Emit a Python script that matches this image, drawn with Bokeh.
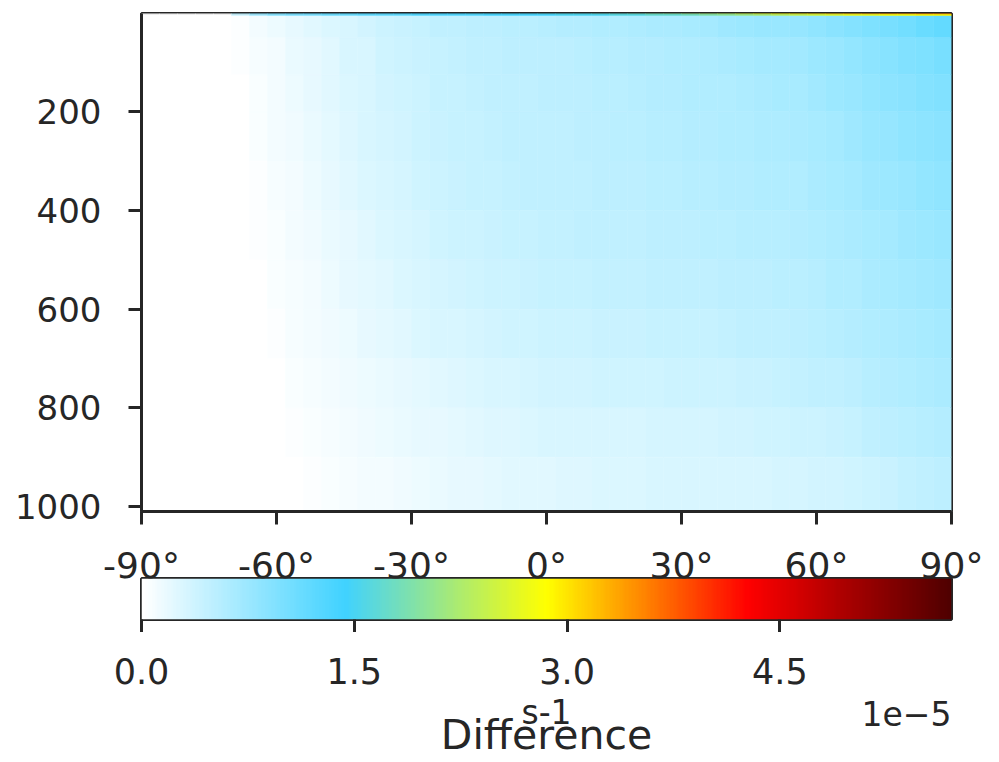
import numpy as np
from bokeh.plotting import figure
from bokeh.models import (ColumnDataSource, LinearColorMapper, FixedTicker, Range1d,
                          LinearAxis, PrintfTickFormatter, NumeralTickFormatter, Label)
from bokeh.layouts import column
from bokeh.transform import transform
from bokeh.embed import file_html
from bokeh.resources import INLINE

# ---------------- data ----------------
# latitude cell edges (deg) and pressure cell edges (hPa)
LAT_EDGES = [-90, -86, -82, -78, -74, -70, -66, -62, -58, -54, -50, -46, -42, -38, -34,
             -30, -26, -22, -18, -14, -10, -6, -2, 2, 6, 10, 14, 18, 22, 26, 30, 34, 38,
             42, 46, 50, 54, 58, 62, 66, 70, 74, 78, 82, 86, 90]
P_EDGES = [1, 2.5, 6, 50, 125, 200, 300, 400, 500, 600, 700, 800, 900, 1010]

# difference values, units of 1e-7 s-1; one row per pressure layer (top to bottom),
# one value per latitude cell (south to north)
DIFF_1_2 = [0, 0, 0, 0, 0, 60, 90, 100, 110, 120, 120, 130, 130, 130, 140, 140, 140, 140, 150, 150,
            150, 150, 160, 160, 160, 170, 170, 180, 190, 200, 210, 220, 230, 250, 270, 290, 300,
            310, 320, 330, 340, 350, 350, 360, 360]
DIFF_2_6 = [0, 0, 0, 0, 0, 40, 70, 90, 100, 100, 110, 110, 120, 120, 120, 130, 130, 130, 130, 140,
            140, 140, 140, 150, 150, 150, 160, 160, 170, 170, 180, 190, 200, 210, 220, 230, 240,
            250, 260, 270, 270, 280, 280, 290, 290]
DIFF_6_50 = [0, 0, 0, 0, 0, 4, 10, 14, 19, 23, 27, 31, 34, 39, 41, 44, 47, 49, 50, 51, 53, 53, 54,
             56, 57, 59, 60, 61, 63, 64, 66, 69, 72, 74, 76, 78, 80, 84, 88, 92, 97, 102, 107,
             112, 117]
DIFF_50_125 = [0, 0, 0, 0, 0, 3, 7, 11, 16, 20, 24, 29, 31, 36, 39, 41, 44, 46, 47, 49, 50, 50, 51,
               51, 53, 54, 54, 56, 57, 59, 60, 61, 63, 65, 67, 69, 70, 74, 78, 82, 86, 90, 94,
               98, 102]
DIFF_125_200 = [0, 0, 0, 0, 0, 2, 6, 10, 14, 19, 23, 27, 30, 34, 37, 40, 43, 44, 46, 47, 49, 49, 50,
                50, 51, 53, 53, 54, 56, 57, 58, 59, 60, 62, 64, 65, 66, 70, 74, 77, 81, 85, 89,
                92, 95]
DIFF_200_300 = [0, 0, 0, 0, 0, 1, 5, 9, 13, 17, 21, 25, 29, 32, 35, 38, 41, 43, 44, 46, 47, 48, 49,
                49, 50, 51, 52, 53, 54, 55, 56, 57, 58, 59, 61, 62, 63, 66, 69, 72, 76, 79, 83,
                86, 89]
DIFF_300_400 = [0, 0, 0, 0, 0, 0, 4, 7, 11, 15, 19, 23, 27, 30, 33, 36, 39, 41, 43, 44, 46, 47, 47,
                48, 49, 50, 50, 51, 52, 53, 54, 55, 56, 57, 58, 59, 60, 63, 66, 69, 72, 75, 78,
                81, 84]
DIFF_400_500 = [0, 0, 0, 0, 0, 0, 3, 6, 9, 13, 17, 20, 24, 27, 30, 33, 36, 38, 40, 41, 43, 44, 46,
                46, 47, 47, 49, 49, 50, 50, 51, 52, 53, 54, 54, 55, 56, 58, 61, 63, 66, 69, 72,
                75, 78]
DIFF_500_600 = [0, 0, 0, 0, 0, 0, 2, 5, 8, 11, 14, 18, 21, 24, 27, 30, 33, 35, 37, 39, 40, 41, 43,
                43, 44, 45, 46, 46, 47, 47, 48, 49, 50, 51, 51, 52, 53, 55, 58, 60, 63, 66, 68,
                71, 73]
DIFF_600_700 = [0, 0, 0, 0, 0, 0, 1, 4, 7, 9, 12, 15, 18, 21, 24, 27, 29, 31, 33, 35, 36, 37, 39,
                39, 40, 41, 41, 42, 43, 43, 44, 44, 46, 47, 48, 49, 50, 52, 54, 57, 59, 62, 64,
                66, 68]
DIFF_700_800 = [0, 0, 0, 0, 0, 0, 0, 2, 5, 7, 10, 12, 15, 17, 20, 22, 24, 26, 28, 30, 31, 32, 34,
                34, 35, 36, 36, 37, 37, 38, 39, 39, 40, 41, 42, 44, 45, 47, 49, 51, 54, 56, 59,
                61, 63]
DIFF_800_900 = [0, 0, 0, 0, 0, 0, 0, 1, 3, 5, 7, 9, 12, 14, 16, 18, 20, 22, 23, 25, 26, 27, 29,
                29, 30, 30, 31, 31, 32, 32, 33, 33, 34, 35, 36, 37, 38, 40, 42, 44, 47, 50, 52,
                55, 57]
DIFF_900_1010 = [0, 0, 0, 0, 0, 0, 0, 0, 2, 3, 5, 7, 9, 11, 13, 15, 17, 19, 20, 21, 23, 24, 24,
                 26, 26, 27, 27, 27, 29, 29, 29, 30, 30, 31, 31, 32, 33, 34, 35, 37, 39, 42, 45,
                 48, 51]
DIFF_ROWS = [DIFF_1_2, DIFF_2_6, DIFF_6_50, DIFF_50_125, DIFF_125_200, DIFF_200_300,
             DIFF_300_400, DIFF_400_500, DIFF_500_600, DIFF_600_700, DIFF_700_800,
             DIFF_800_900, DIFF_900_1010]
DIFF_UNIT = 1e-7

LAT_TICKS = [-90, -60, -30, 0, 30, 60, 90]
P_TICKS = [200, 400, 600, 800, 1000]
VMAX = 5.71e-5
CB_TICKS = [0.0, 1.5, 3.0, 4.5]     # in units of 1e-5
CB_SCALE = 1e-5

# ---------------- styling ----------------
INK = "#262626"
FONT = "DejaVu Sans"
W = 991
LEFT = 141
RIGHT = 40

stops = [(0.0, (255, 255, 255)), (0.25, (64, 210, 255)), (0.5, (255, 255, 0)),
         (0.75, (255, 0, 0)), (1.0, (80, 0, 0))]


def cmap(t):
    for (t0, c0), (t1, c1) in zip(stops[:-1], stops[1:]):
        if t <= t1:
            f = (t - t0) / (t1 - t0)
            return "#%02x%02x%02x" % tuple(int(round(a + (b - a) * f)) for a, b in zip(c0, c1))
    return "#%02x%02x%02x" % stops[-1][1]


PALETTE = [cmap(i / 255) for i in range(256)]
mapper = LinearColorMapper(palette=PALETTE, low=0, high=VMAX)

# ---------------- heatmap source ----------------
left, right, top, bottom, vals = [], [], [], [], []
for i, row in enumerate(DIFF_ROWS):
    for j, v in enumerate(row):
        left.append(LAT_EDGES[j])
        right.append(LAT_EDGES[j + 1])
        top.append(P_EDGES[i])
        bottom.append(P_EDGES[i + 1])
        vals.append(v * DIFF_UNIT)
src = ColumnDataSource(dict(left=left, right=right, top=top, bottom=bottom, v=vals))

# ---------------- main figure ----------------
p = figure(width=W, height=528, x_range=Range1d(LAT_EDGES[0], LAT_EDGES[-1]),
           y_range=Range1d(P_EDGES[-1], P_EDGES[0]),
           output_backend="svg", toolbar_location=None,
           min_border_left=LEFT, min_border_right=RIGHT, min_border_top=13, min_border_bottom=17)
p.grid.visible = False
p.background_fill_color = "white"
p.border_fill_color = "white"
p.outline_line_color = INK
p.outline_line_width = 3
p.outline_line_alpha = 1

p.quad(left="left", right="right", top="top", bottom="bottom", source=src,
       fill_color=transform("v", mapper), line_color=transform("v", mapper), line_width=0.5)

xa = p.xaxis[0]
xa.ticker = FixedTicker(ticks=LAT_TICKS)
xa.major_tick_out = 13
xa.major_tick_in = 0
xa.major_tick_line_width = 3
xa.major_tick_line_color = INK
xa.minor_tick_line_color = None
xa.axis_line_color = INK
xa.axis_line_width = 3
xa.major_label_text_color = None
xa.major_label_text_font_size = "1px"
xa.major_label_standoff = 0

ya = p.yaxis[0]
ya.ticker = FixedTicker(ticks=P_TICKS)
ya.major_tick_out = 13
ya.major_tick_in = 0
ya.major_tick_line_width = 3
ya.major_tick_line_color = INK
ya.minor_tick_line_color = None
ya.axis_line_color = INK
ya.axis_line_width = 3
ya.major_label_text_font = FONT
ya.major_label_text_font_size = "34px"
ya.major_label_text_color = INK
ya.major_label_standoff = 27

# ---------------- colorbar figure ----------------
vmax_s = VMAX / CB_SCALE
mapper2 = LinearColorMapper(palette=PALETTE, low=0, high=vmax_s)
p2 = figure(width=W, height=104, x_range=Range1d(0, vmax_s), y_range=Range1d(0, 1),
            x_axis_location=None, y_axis_location=None,
            output_backend="svg", toolbar_location=None,
            min_border_left=LEFT, min_border_right=RIGHT, min_border_top=50, min_border_bottom=13)
p2.grid.visible = False
p2.border_fill_color = "white"
p2.outline_line_color = INK
p2.outline_line_width = 3
p2.outline_line_alpha = 1
p2.extra_x_ranges = {"lat": Range1d(LAT_EDGES[0], LAT_EDGES[-1])}

ramp = np.linspace(0, vmax_s, 600).reshape(1, -1)
p2.image(image=[ramp], x=0, y=0, dw=vmax_s, dh=1, color_mapper=mapper2)

# latitude tick labels of the main plot (they overlap the colorbar top, as in the original)
top_ax = LinearAxis(x_range_name="lat", ticker=FixedTicker(ticks=LAT_TICKS),
                    formatter=PrintfTickFormatter(format="%d°"))
top_ax.axis_line_color = None
top_ax.major_tick_line_color = None
top_ax.minor_tick_line_color = None
top_ax.major_tick_out = 0
top_ax.major_tick_in = 0
top_ax.major_label_standoff = -7
top_ax.major_label_text_font = FONT
top_ax.major_label_text_font_size = "36px"
top_ax.major_label_text_color = INK
p2.add_layout(top_ax, "above")

# colorbar tick marks
bot_ax = LinearAxis(ticker=FixedTicker(ticks=CB_TICKS))
bot_ax.axis_line_color = None
bot_ax.major_tick_out = 13
bot_ax.major_tick_in = 0
bot_ax.major_tick_line_width = 3
bot_ax.major_tick_line_color = INK
bot_ax.minor_tick_line_color = None
bot_ax.major_label_text_color = None
bot_ax.major_label_text_font_size = "1px"
bot_ax.major_label_standoff = 0
p2.add_layout(bot_ax, "below")

# ---------------- colorbar tick labels and titles ----------------
p3 = figure(width=W, height=129, x_range=Range1d(0, vmax_s), y_range=Range1d(0, 74),
            x_axis_location=None, y_axis_location=None,
            output_backend="svg", toolbar_location=None,
            min_border_left=LEFT, min_border_right=RIGHT, min_border_top=55, min_border_bottom=0)
p3.grid.visible = False
p3.outline_line_color = None
p3.border_fill_color = "white"
p3.background_fill_color = "white"

cb_lab = LinearAxis(ticker=FixedTicker(ticks=CB_TICKS), formatter=NumeralTickFormatter(format="0.0"))
cb_lab.axis_line_color = None
cb_lab.major_tick_line_color = None
cb_lab.minor_tick_line_color = None
cb_lab.major_tick_out = 0
cb_lab.major_tick_in = 0
cb_lab.major_label_standoff = 4
cb_lab.major_label_text_font = FONT
cb_lab.major_label_text_font_size = "35px"
cb_lab.major_label_text_color = INK
p3.add_layout(cb_lab, "above")

p3.add_layout(Label(x=vmax_s / 2, y=49, text="s-1", text_align="center",
                    text_baseline="middle", text_font=FONT, text_font_size="33px",
                    text_color=INK))
p3.add_layout(Label(x=vmax_s / 2, y=27, text="Difference", text_align="center",
                    text_baseline="middle", text_font=FONT, text_font_size="41px",
                    text_color=INK))
p3.add_layout(Label(x=vmax_s, y=48, text="1e\u22125", text_align="right",
                    text_baseline="middle", text_font=FONT, text_font_size="33px",
                    text_color=INK))

layout = column(p, p2, p3, spacing=0)
open("out.html", "w").write(file_html(layout, INLINE))
